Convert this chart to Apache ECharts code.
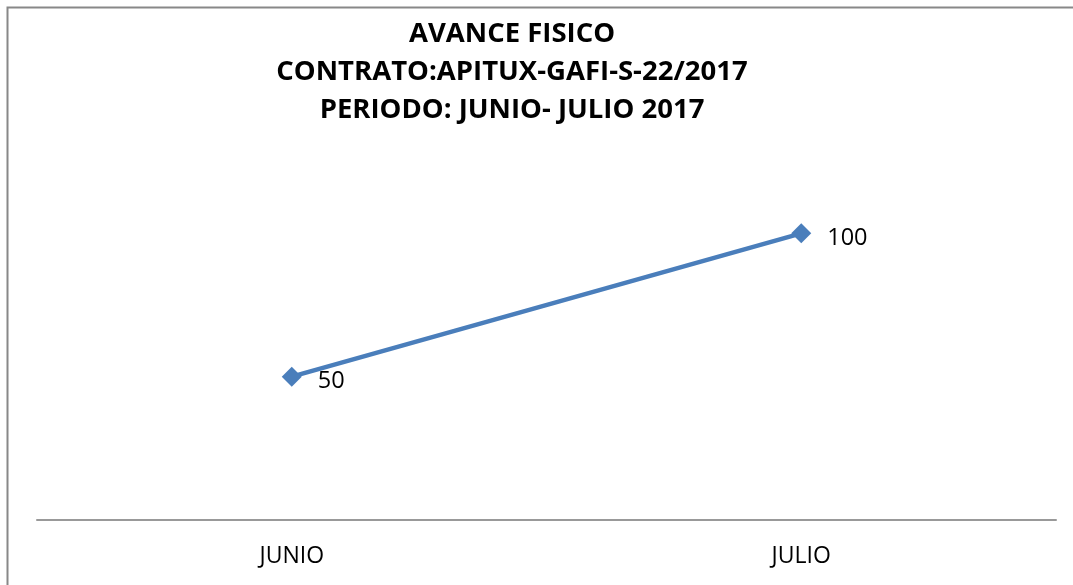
<!DOCTYPE html>
<html><head><meta charset="utf-8">
<script src="https://cdn.jsdelivr.net/npm/echarts@6/dist/echarts.min.js"></script>
<style>html,body{margin:0;padding:0;background:#fff}#c{width:1073px;height:585px}</style>
</head><body><div id="c"></div>
<script>
var categories = ['JUNIO', 'JULIO'];
var avanceValues = [50, 100];
var titleLines = ['AVANCE FISICO', 'CONTRATO:APITUX-GAFI-S-22/2017', 'PERIODO: JUNIO- JULIO 2017'];

var chart = echarts.init(document.getElementById('c'), null, {renderer: 'canvas'});
chart.setOption({
  animation: false,
  backgroundColor: '#fff',
  graphic: [
    {type: 'polyline', shape: {points: [[7.5, 585], [7.5, 7.5], [1073, 7.5]]},
     style: {stroke: '#888', lineWidth: 2, fill: null}}
  ],
  title: {
    text: titleLines.join('\n'),
    left: 507, top: 10, textAlign: 'center',
    textStyle: {fontFamily: 'Open Sans', fontWeight: 'bold', fontSize: 27.5, lineHeight: 38, color: '#000'}
  },
  grid: {left: 37, right: 17, top: 176, bottom: 65, containLabel: false},
  xAxis: {
    type: 'category', data: categories, boundaryGap: true,
    axisLine: {lineStyle: {color: '#999', width: 2}},
    axisTick: {show: false},
    axisLabel: {fontFamily: 'Open Sans', fontSize: 23, color: '#000', margin: 25}
  },
  yAxis: {type: 'value', min: 0, max: 120, show: false, splitLine: {show: false}},
  series: [{
    type: 'line', data: avanceValues,
    lineStyle: {color: '#4a7ebb', width: 4.5},
    itemStyle: {color: '#4a7ebb'},
    symbol: 'diamond', symbolSize: 20,
    label: {show: true, position: 'right', distance: 16, offset: [0, 5],
      fontFamily: 'Open Sans', fontSize: 23.5, color: '#000'}
  }]
});
</script></body></html>
